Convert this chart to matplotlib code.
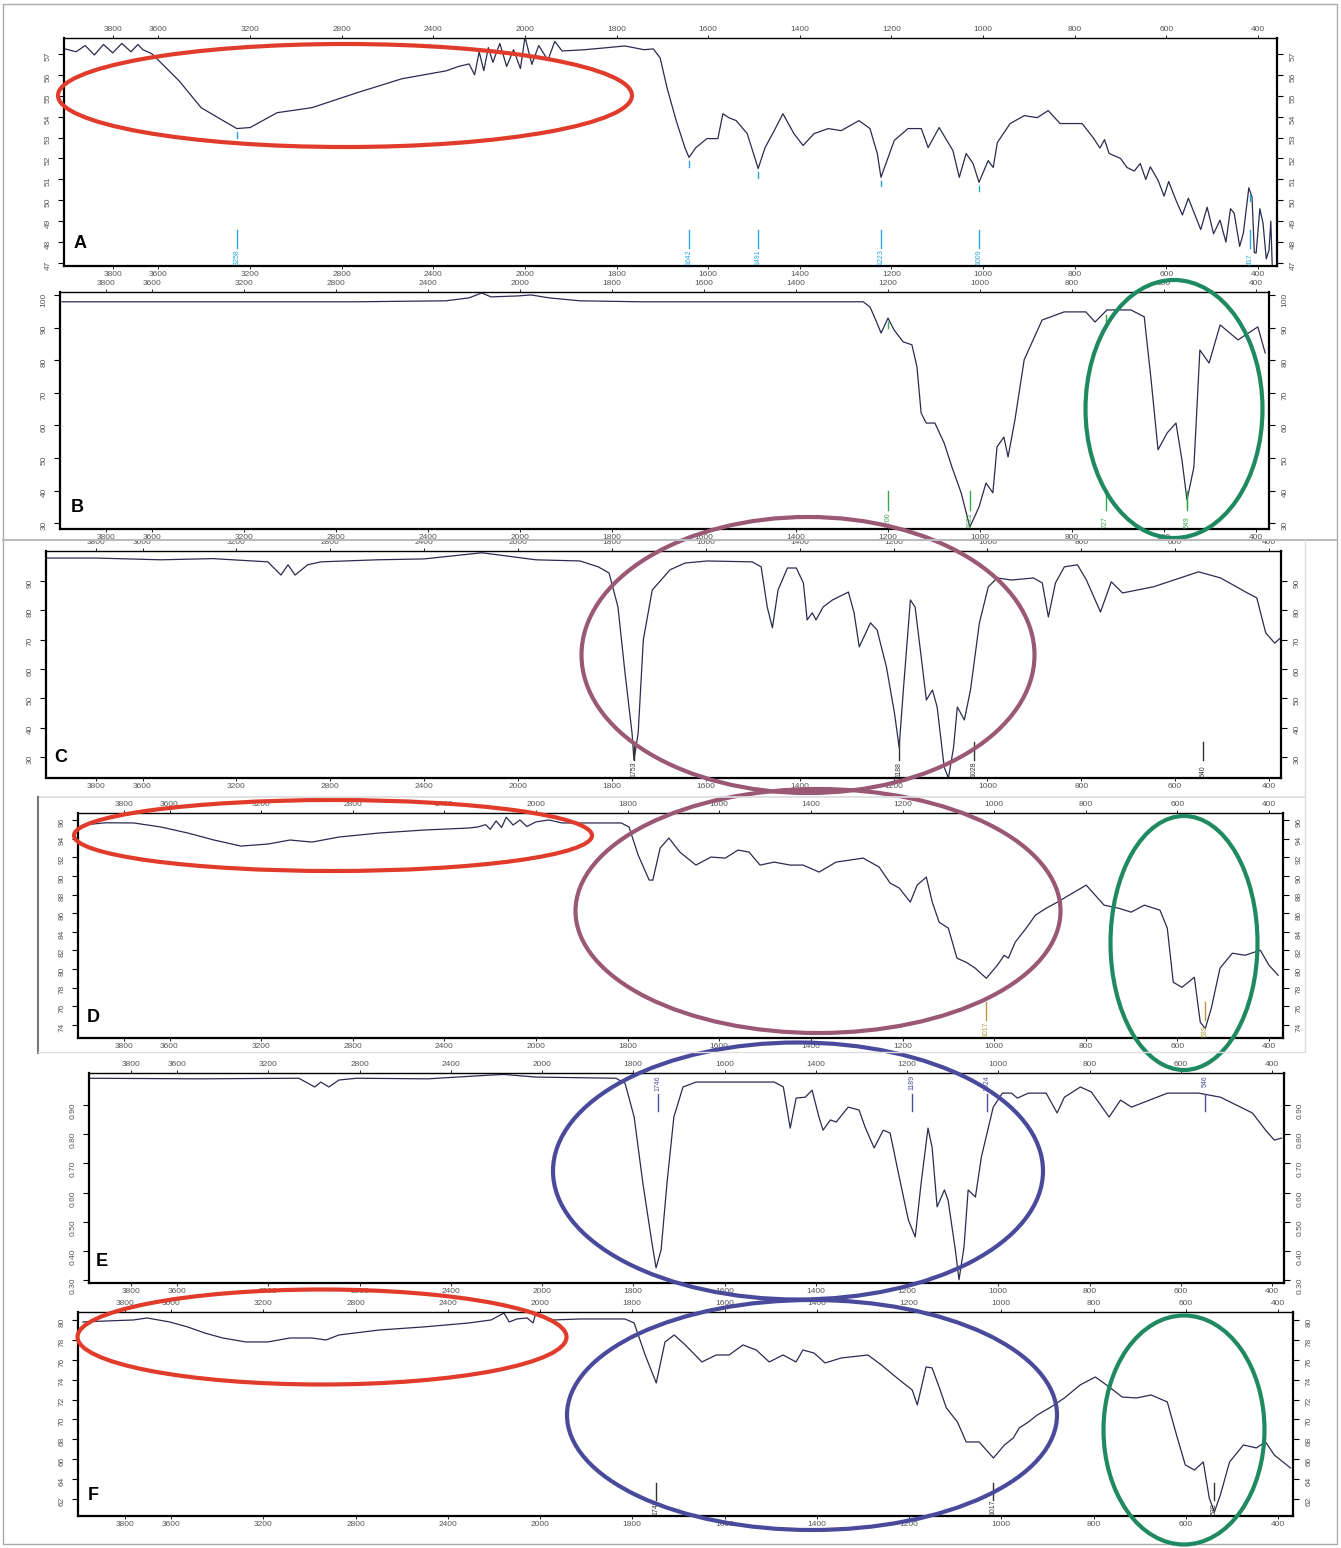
import numpy as np
import matplotlib.pyplot as plt
from matplotlib.patches import Ellipse, Rectangle

# --- spectra (wavenumber cm-1, transmittance) ---
a_wn = [4008, 3960, 3920, 3880, 3840, 3800, 3760, 3720, 3690, 3668, 3628, 3510, 3414, 3318, 3258, 3200,
        3082, 2930, 2734, 2538, 2344, 2290, 2244, 2220, 2200, 2180, 2160, 2140, 2110, 2080, 2050, 2020,
        2000, 1985, 1970, 1950, 1935, 1919, 1870, 1820, 1782, 1740, 1720, 1705, 1690, 1670, 1651, 1642,
        1627, 1603, 1579, 1568, 1555, 1539, 1515, 1491, 1476, 1456, 1437, 1413, 1393, 1369, 1338, 1310,
        1271, 1247, 1231, 1223, 1194, 1164, 1135, 1120, 1096, 1066, 1052, 1037, 1022, 1009, 989, 978,
        969, 941, 910, 882, 858, 832, 784, 760, 745, 735, 725, 700, 686, 670, 657, 645, 635, 618, 605,
        595, 579, 565, 552, 539, 525, 511, 497, 483, 470, 460, 452, 440, 432, 420, 413, 408, 404, 396,
        389, 382, 376, 372, 369]
a_t = [57.24, 57.1, 57.4, 56.95, 57.45, 57.05, 57.5, 57.1, 57.45, 57.2, 57.0, 55.71, 54.43, 53.81, 53.43, 53.48,
       54.19, 54.43, 55.14, 55.81, 56.19, 56.4, 56.52, 56.0, 57.1, 56.2, 57.3, 56.6, 57.5, 56.4, 57.2, 56.3,
       57.8, 56.5, 57.4, 56.7, 57.6, 57.14, 57.2, 57.3, 57.38, 57.2, 57.24, 56.81, 55.38, 53.81, 52.52, 52.05,
       52.52, 52.95, 52.95, 54.14, 53.95, 53.81, 53.19, 51.52, 52.52, 53.33, 54.14, 53.19, 52.62, 53.19, 53.43, 53.33,
       53.81, 53.43, 52.24, 51.1, 52.86, 53.43, 53.43, 52.52, 53.48, 52.38, 51.1, 52.24, 51.76, 50.86, 51.9, 51.57,
       52.76, 53.67, 54.05, 53.95, 54.29, 53.67, 53.67, 53.0, 52.5, 52.9, 52.24, 52.0, 51.57, 51.4, 51.76, 51.0, 51.6, 50.95, 50.2,
       50.9, 50.0, 49.3, 50.1, 49.38, 48.6, 49.67, 48.4, 49.05, 48.0, 49.6, 49.38, 47.8, 48.43, 50.6, 50.14, 47.5, 47.48, 49.6,
       48.9, 47.2, 47.62, 49.0, 46.9]

b_wn = [3992, 3600, 3200, 2708, 2322, 2222, 2166, 2126, 2008, 1976, 1937, 1870, 1739, 1617, 1254, 1239,
        1224, 1215, 1200, 1187, 1167, 1148, 1137, 1128, 1117, 1098, 1078, 1061, 1041, 1022, 1002, 987,
        972, 963, 948, 939, 924, 904, 865, 817, 770, 750, 724, 672, 643, 628, 613, 593, 574, 561, 550,
        535, 522, 502, 478, 439, 396, 380]
b_t = [97.9, 97.9, 97.9, 97.9, 98.2, 99.1, 100.6, 99.4, 99.7, 100.0, 99.1, 98.2, 97.9, 97.9, 97.9, 96.3,
       91.4, 88.3, 92.9, 89.3, 85.6, 84.7, 77.9, 63.8, 60.7, 60.7, 54.6, 47.2, 39.3, 28.8, 35.0, 42.3,
       39.3, 53.4, 56.4, 50.3, 61.7, 80.1, 92.3, 94.8, 94.8, 91.7, 95.4, 95.4, 93.3, 73.9, 52.5, 57.7, 60.7, 49.4, 37.1,
       47.2, 83.1, 79.1, 90.8, 86.2, 90.2, 82.2]

c_wn = [4012, 3800, 3522, 3300, 3066, 3010, 2980, 2950, 2896, 2840, 2600, 2400, 2154, 1962, 1868, 1829,
        1806, 1787, 1772, 1757, 1753, 1744, 1733, 1714, 1676, 1644, 1597, 1501, 1482, 1469, 1458, 1446,
        1426, 1407, 1392, 1384, 1373, 1365, 1350, 1330, 1296, 1284, 1273, 1249, 1235, 1215, 1198, 1188,
        1179, 1164, 1154, 1141, 1130, 1117, 1107, 1092, 1083, 1072, 1064, 1049, 1036, 1017, 998, 979,
        949, 902, 883, 870, 855, 836, 808, 789, 759, 736, 712, 646, 550, 503, 446, 426, 407, 388, 373]
c_t = [97.8, 97.8, 97.2, 97.6, 96.5, 92.0, 95.5, 92.0, 95.5, 96.5, 97.2, 97.5, 99.6, 97.2, 96.8, 94.8,
       92.7, 81.1, 58.6, 38.1, 28.9, 38.1, 69.9, 86.9, 93.8, 96.1, 96.8, 96.5, 94.8, 81.1, 74.0, 86.9,
       94.4, 94.4, 89.3, 76.7, 79.1, 76.7, 81.1, 83.5, 86.2, 79.1, 67.5, 75.7, 73.3, 60.6, 45.0, 33.3,
       52.8, 83.5, 81.1, 64.1, 49.4, 52.8, 47.0, 26.5, 22.8, 33.3, 47.0, 42.6, 52.8, 75.7, 88.0, 91.0,
       90.3, 91.0, 89.3, 77.7, 89.3, 94.8, 95.5, 90.3, 79.4, 89.7, 85.9, 88.0, 93.1, 91.0, 85.9, 84.2, 72.3, 68.8, 70.9]

d_wn = [3978, 3880, 3756, 3638, 3520, 3406, 3288, 3170, 3074, 2978, 2860, 2686, 2490, 2292, 2254, 2220,
        2200, 2174, 2150, 2130, 2100, 2070, 2040, 2000, 1972, 1943, 1814, 1797, 1777, 1753, 1745, 1729,
        1710, 1686, 1651, 1618, 1587, 1559, 1535, 1511, 1480, 1445, 1417, 1382, 1345, 1286, 1251, 1227,
        1207, 1183, 1168, 1148, 1135, 1120, 1100, 1081, 1061, 1041, 1017, 993, 978, 969, 954, 930, 910,
        886, 862, 836, 799, 760, 729, 701, 672, 638, 622, 609, 590, 563, 550, 539, 526, 507, 480, 452,
        419, 400, 380]
d_t = [95.46, 95.7, 95.68, 95.25, 94.6, 93.85, 93.2, 93.42, 93.85, 93.63, 94.17, 94.6, 94.92, 95.14, 95.25, 95.5,
       95.0, 95.9, 95.2, 96.3, 95.46, 96.0, 95.3, 95.8, 96.0, 95.68, 95.68, 95.25, 92.24, 89.55, 89.55, 92.99,
       94.06, 92.56, 91.16, 92.02, 91.91, 92.77, 92.56, 91.16, 91.48, 91.16, 91.16, 90.41, 91.48, 91.91, 90.95, 89.23,
       88.69, 87.18, 89.01, 89.87, 87.18, 85.03, 84.39, 81.16, 80.73, 80.09, 79.01, 80.41, 81.48, 81.16, 82.88, 84.39, 85.78,
       86.54, 87.18, 87.94, 89.01, 86.86, 86.54, 86.11, 86.86, 86.32, 84.39, 78.58, 78.04, 79.12, 74.28, 73.63, 75.78, 80.09, 81.7, 81.48,
       82.02, 80.41, 79.33]

e_wn = [3986, 3500, 3066, 2996, 2970, 2934, 2890, 2812, 2500, 2224, 2166, 2026, 1838, 1818, 1798, 1779,
        1759, 1750, 1739, 1726, 1711, 1691, 1662, 1491, 1471, 1456, 1443, 1423, 1408, 1393, 1384, 1368,
        1355, 1329, 1305, 1292, 1272, 1252, 1237, 1217, 1197, 1182, 1169, 1154, 1145, 1134, 1118, 1110,
        1094, 1086, 1075, 1066, 1050, 1037, 1011, 991, 971, 958, 934, 895, 871, 855, 820, 796, 757, 732,
        708, 629, 561, 513, 443, 414, 395, 379]
e_t = [0.992, 0.99, 0.992, 0.962, 0.979, 0.962, 0.986, 0.992, 0.99, 1.003, 1.005, 0.996, 0.992, 0.975, 0.859, 0.633,
       0.427, 0.342, 0.403, 0.633, 0.859, 0.962, 0.979, 0.979, 0.962, 0.821, 0.924, 0.927, 0.951, 0.859, 0.814, 0.849,
       0.842, 0.893, 0.883, 0.825, 0.753, 0.814, 0.804, 0.653, 0.506, 0.448, 0.633, 0.821, 0.756, 0.551, 0.609, 0.575,
       0.403, 0.301, 0.414, 0.609, 0.585, 0.722, 0.893, 0.941, 0.941, 0.924, 0.941, 0.941, 0.873, 0.927, 0.962, 0.945, 0.859, 0.917,
       0.893, 0.941, 0.941, 0.927, 0.873, 0.814, 0.780, 0.787]

f_wn = [3982, 3880, 3762, 3704, 3606, 3528, 3454, 3376, 3276, 3180, 3084, 2990, 2928, 2872, 2698, 2504,
        2308, 2212, 2156, 2134, 2100, 2056, 2030, 2018, 1989, 1970, 1913, 1816, 1796, 1772, 1748, 1729,
        1709, 1685, 1649, 1618, 1590, 1560, 1531, 1503, 1473, 1445, 1430, 1406, 1382, 1347, 1289, 1260,
        1226, 1193, 1182, 1163, 1150, 1134, 1119, 1095, 1076, 1048, 1017, 993, 974, 961, 941, 922, 892,
        863, 829, 796, 766, 738, 707, 675, 640, 620, 601, 581, 562, 549, 538, 525, 505, 475, 447, 427,
        408, 373]
f_t = [79.8, 79.9, 80.0, 80.2, 79.8, 79.3, 78.69, 78.19, 77.79, 77.79, 78.19, 78.19, 77.99, 78.49, 78.99, 79.3,
       79.7, 80.0, 80.7, 79.8, 80.1, 80.2, 79.7, 80.7, 80.2, 80.0, 80.1, 80.1, 79.7, 76.48, 73.67, 77.79,
       78.49, 77.49, 75.78, 76.48, 76.48, 77.49, 76.98, 75.78, 76.48, 75.78, 76.98, 76.68, 75.68, 76.18, 76.48, 75.48,
       74.17, 72.96, 71.46, 75.28, 75.18, 73.17, 71.16, 69.75, 67.74, 67.74, 66.13, 67.44, 68.14, 69.15, 69.75, 70.45, 71.26,
       72.16, 73.47, 74.27, 73.27, 72.26, 72.16, 72.46, 71.76, 68.44, 65.43, 64.92, 65.73, 62.11, 60.7, 62.41, 65.73, 67.44, 67.14, 67.74,
       66.43, 65.13]

# peak picks printed on each spectrum
a_peaks = [3258, 1642, 1491, 1223, 1009, 417]
b_peaks = [1200, 1022, 727, 549]
c_peaks = [1753, 1188, 1028, 540]
d_peaks = [1017, 539]
e_peaks = [1746, 1189, 1024, 546]
f_peaks = [1748, 1017, 538]

x_ticks = [3800, 3600, 3200, 2800, 2400, 2000, 1800, 1600, 1400, 1200, 1000, 800, 600, 400]
a_yticks = [57, 56, 55, 54, 53, 52, 51, 50, 49, 48, 47]
b_yticks = [100, 90, 80, 70, 60, 50, 40, 30]
c_yticks = [90, 80, 70, 60, 50, 40, 30]
d_yticks = [96, 94, 92, 90, 88, 86, 84, 82, 80, 78, 76, 74]
e_yticks = [0.90, 0.80, 0.70, 0.60, 0.50, 0.40, 0.30]
f_yticks = [80, 78, 76, 74, 72, 70, 68, 66, 64, 62]

W, H = 1341, 1548
fig = plt.figure(figsize=(W / 100, H / 100), dpi=100)
plt.rcParams['font.family'] = ['Liberation Sans', 'DejaVu Sans']


# wavenumber axis: above 2000 cm-1 compressed 2:1
def fwd(w):
    w = np.asarray(w, float)
    return np.where(w > 2000, (w - 2000) / 2.0, w - 2000)


def inv(u):
    u = np.asarray(u, float)
    return np.where(u > 0, 2000 + 2.0 * u, 2000 + u)


# frame in pixels (left, top, right, bottom), pixel x of 2000 and 400 ticks
panels = [
    dict(wn=a_wn, t=a_t, box=(64, 38, 1277, 266), cal=(525, 1258), yl=(46.86, 57.76), yt=a_yticks,
         yfmt='{:.0f}', peaks=a_peaks, pc='#2aa6de', top=False, dash=True),
    dict(wn=b_wn, t=b_t, box=(60, 292, 1269, 529), cal=(520, 1256), yl=(28.2, 100.9), yt=b_yticks,
         yfmt='{:.0f}', peaks=b_peaks, pc='#3aa648', top=False, dash=True),
    dict(wn=c_wn, t=c_t, box=(46, 551, 1281, 778), cal=(518, 1269), yl=(22.8, 100.2), yt=c_yticks,
         yfmt='{:.0f}', peaks=c_peaks, pc='#333333', top=False, dash=False),
    dict(wn=d_wn, t=d_t, box=(78, 813, 1283, 1038), cal=(536, 1269), yl=(72.6, 96.75), yt=d_yticks,
         yfmt='{:.0f}', peaks=d_peaks, pc='#b49a3c', top=False, dash=False),
    dict(wn=e_wn, t=e_t, box=(89, 1073, 1284, 1283), cal=(542, 1272), yl=(0.29, 1.01), yt=e_yticks,
         yfmt='{:.2f}', peaks=e_peaks, pc='#4f4fa0', top=True, dash=False),
    dict(wn=f_wn, t=f_t, box=(78, 1312, 1293, 1516), cal=(540, 1278), yl=(60.3, 80.8), yt=f_yticks,
         yfmt='{:.0f}', peaks=f_peaks, pc='#333333', top=False, dash=False),
]

for p in panels:
    l, t, r, b = p['box']
    ax = fig.add_axes([l / W, 1 - b / H, (r - l) / W, (b - t) / H])
    ax.set_xscale('function', functions=(fwd, inv))
    x2000, x400 = p['cal']
    k = (x400 - x2000) / 1600.0
    ax.set_xlim(float(inv((x2000 - l) / k)), float(inv(-(r - x2000) / k)))
    ax.set_ylim(*p['yl'])
    ax.plot(p['wn'], p['t'], color='#2b2b50', lw=0.9)

    ax.set_xticks(x_ticks)
    ax.set_xticklabels([str(v) for v in x_ticks])
    ax.xaxis.set_minor_locator(plt.NullLocator())
    ax.tick_params(axis='x', top=True, bottom=True, labeltop=True, labelbottom=True,
                   direction='out', length=2, width=0.6, labelsize=6, pad=1.5, labelcolor='#555555')
    ax.set_yticks(p['yt'])
    ax.set_yticklabels([p['yfmt'].format(v) for v in p['yt']])
    ax.tick_params(axis='y', left=True, right=True, labelleft=True, labelright=True,
                   direction='out', length=4, width=0.8, labelsize=6, pad=5,
                   labelrotation=90, labelcolor='#555555')
    for side in ['left', 'right', 'bottom']:
        ax.spines[side].set_linewidth(1.6)
    ax.spines['top'].set_linewidth(1.0)

    # peak picks
    tr = ax.get_xaxis_transform()
    y0, y1 = p['yl']
    for w in p['peaks']:
        if p['top']:
            ax.plot([w, w], [0.82, 0.9], transform=tr, color=p['pc'], lw=1.0)
            ax.text(w, 0.99, str(w), transform=tr, rotation=90, ha='center', va='top',
                    fontsize=5, color=p['pc'])
        else:
            ax.plot([w, w], [0.08, 0.16], transform=tr, color=p['pc'], lw=1.0)
            ax.text(w, 0.005, str(w), transform=tr, rotation=90, ha='center', va='bottom',
                    fontsize=5, color=p['pc'])
            if p['dash']:
                v = np.interp(w, p['wn'][::-1], p['t'][::-1])
                fr = (v - y0) / (y1 - y0)
                ax.plot([w, w], [fr - 0.015, fr - 0.04], transform=tr, color=p['pc'], lw=1.0)

# overlay: letters, frames, ellipses
ov = fig.add_axes([0, 0, 1, 1], facecolor='none', zorder=10)
ov.set_xlim(0, W)
ov.set_ylim(H, 0)
ov.axis('off')

ov.add_patch(Rectangle((3, 4), 1334, 1540, fill=False, ec='#aaaaaa', lw=1.0))
ov.plot([3, 1337], [540, 540], color='#bbbbbb', lw=1.5)
ov.plot([1305, 1305], [540, 1052], color='#dddddd', lw=1.0)
ov.plot([38, 1305], [797, 797], color='#dddddd', lw=1.2)
ov.plot([38, 38], [797, 1053], color='#777777', lw=1.5)
ov.plot([38, 1305], [1052, 1052], color='#dddddd', lw=1.0)

for lab, x, y in [('A', 80, 243), ('B', 77, 508), ('C', 61, 758),
                  ('D', 93, 1017), ('E', 102, 1262), ('F', 93, 1495)]:
    ov.text(x, y, lab, fontsize=13, fontweight='bold', ha='center', va='center', color='black')

red, green, purple, blue = '#e03b2b', '#1f8a62', '#9a5874', '#4a4a9c'
ellipses = [
    ((345, 95.5), 574, 103, red),
    ((1174, 409), 177, 258, green),
    ((808, 655), 453, 276, purple),
    ((333, 835.5), 518, 71, red),
    ((818, 911), 485, 244, purple),
    ((1184, 943), 147, 254, green),
    ((798, 1171), 490, 257, blue),
    ((322, 1337), 489, 95, red),
    ((812, 1415), 490, 230, blue),
    ((1184, 1430), 161, 229, green),
]
for c, w, h, col in ellipses:
    ov.add_patch(Ellipse(c, w, h, fill=False, ec=col, lw=3.0))

fig.savefig('out.png', dpi=100)
